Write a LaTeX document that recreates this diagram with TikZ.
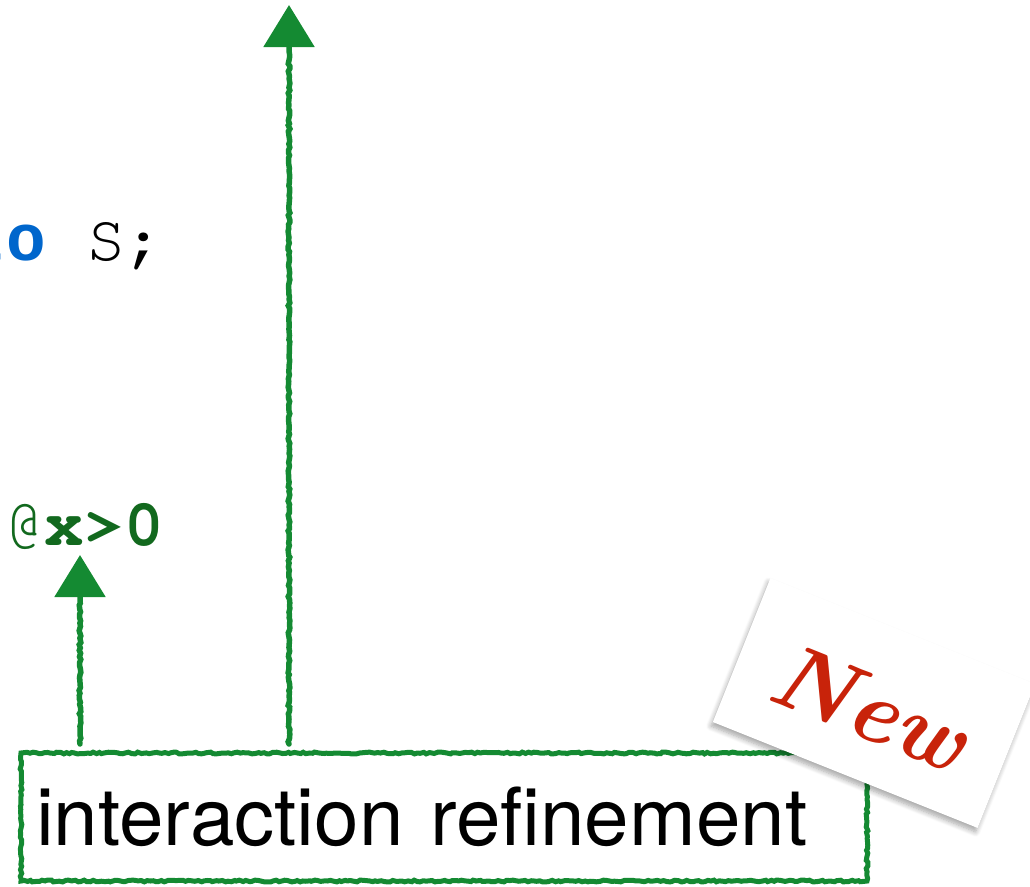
\documentclass[tikz,border=0pt]{standalone}
\usepackage[T1,TU]{fontenc}
\usepackage{fontspec}
\usetikzlibrary{arrows.meta,decorations.pathmorphing,shadows.blur,calc}
\newcommand{\courierfont}{\fontencoding{T1}\fontfamily{pcr}\selectfont}
\newfontfamily\kwfont{Liberation Mono}
\newfontfamily\labelfont{TeX Gyre Heros}
\definecolor{kwblue}{RGB}{0,102,204}
\definecolor{annogreen}{RGB}{18,105,30}
\definecolor{pengreen}{RGB}{20,138,50}
\definecolor{newred}{RGB}{200,35,10}
\tikzset{
  codetext/.style={inner sep=0pt, anchor=base west, font=\courierfont\fontsize{66}{66}\selectfont},
  penline/.style={draw=pengreen, line width=5.5pt, line cap=round,
    decorate, decoration={random steps, segment length=3pt, amplitude=0.9pt, post length=46pt}},
  pentip/.style={-{Triangle[width=50pt,length=42pt]}},
  penbox/.style={draw=pengreen, line width=5pt, decorate,
    decoration={random steps, segment length=3pt, amplitude=0.9pt},
    minimum width=846pt, minimum height=128pt, text width=816pt, align=left,
    inner sep=0pt, font=\labelfont\fontsize{80}{80}\selectfont},
  card/.style={fill=white, minimum width=285pt, minimum height=155pt, rotate=-21.8,
    blur shadow={shadow xshift=-2pt, shadow yshift=-4pt, shadow blur steps=8, shadow blur radius=5pt, shadow opacity=35}},
}
\begin{document}
\begin{tikzpicture}[x=1pt,y=-1pt]
\useasboundingbox (0,0) rectangle (1030,886);
% code text
\node[codetext] (code1) at (-33,260) {\textcolor{kwblue}{\kwfont\bfseries to} S;};
\node[codetext, text=annogreen] (anno) at (5,545) {@\textbf{x>0}};
% box
\node[penbox] (box) at (444,817) {interaction refinement};
% arrow endpoints
\coordinate (s1) at (80,744);
\coordinate (t1) at (80,555);
\coordinate (s2) at (289,744);
\coordinate (t2) at (289,5);
\draw[penline, pentip] (s1) -- (t1);
\draw[penline, pentip] (s2) -- (t2);
% New card
\node[card] (newcard) at (874,703) {};
\node[rotate=-21.8, text=newred, inner sep=0pt,
  font=\bfseries\itshape\fontsize{92}{92}\selectfont] (newtext) at ($(newcard.center)+(-4,4)$) {New};
\end{tikzpicture}
\end{document}
